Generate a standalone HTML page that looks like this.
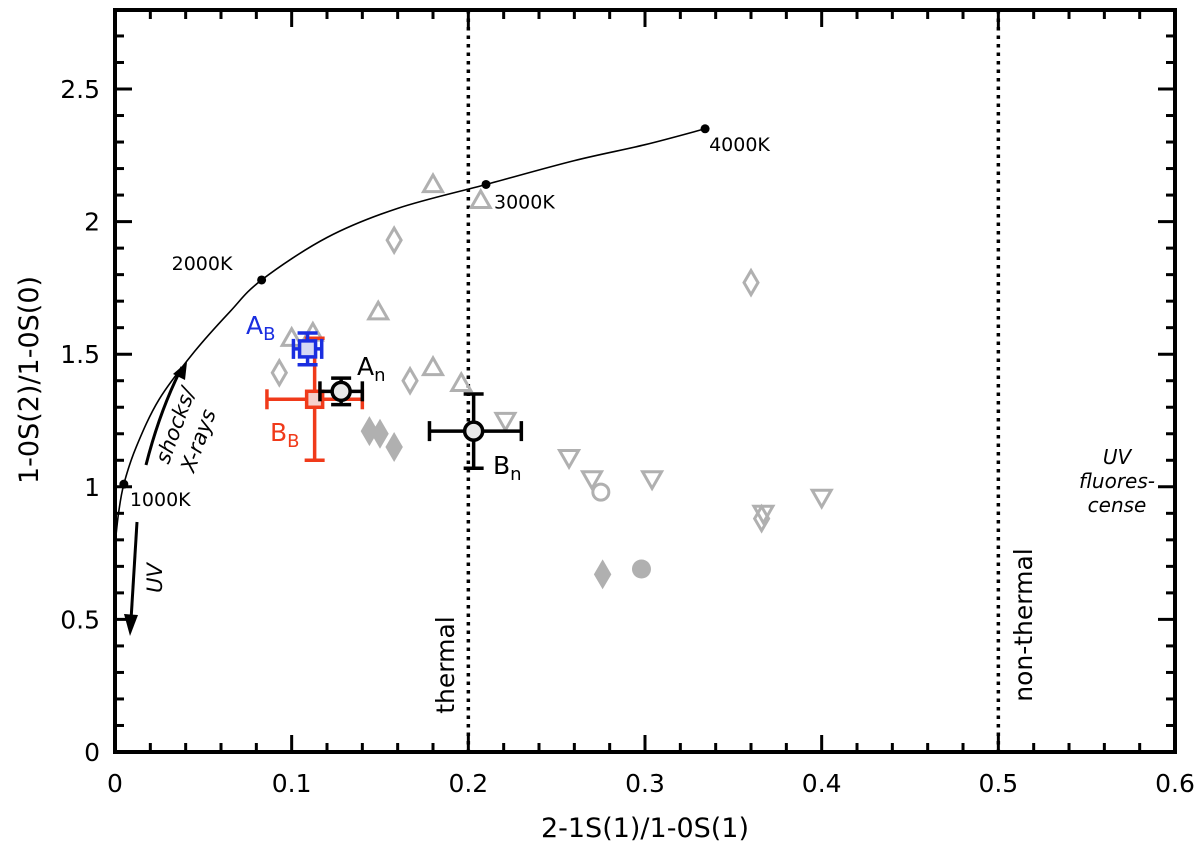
<!DOCTYPE html>
<html><head><meta charset="utf-8"><style>
body{margin:0;background:#fff}
svg text{font-family:"DejaVu Sans","Liberation Sans",sans-serif}
</style></head><body>
<svg id="c" width="1200" height="854" viewBox="0 0 1200 854" xmlns="http://www.w3.org/2000/svg"></svg>
<script>
const xTicks=[0,0.1,0.2,0.3,0.4,0.5,0.6];
const xTickLabels=["0","0.1","0.2","0.3","0.4","0.5","0.6"];
const yTicks=[0,0.5,1,1.5,2,2.5];
const yTickLabels=["0","0.5","1","1.5","2","2.5"];
const curveX=[0,0.002,0.005,0.012,0.025,0.045,0.065,0.083,0.12,0.16,0.21,0.26,0.30,0.334];
const curveY=[0.78,0.9,1.01,1.15,1.33,1.51,1.66,1.78,1.94,2.05,2.14,2.23,2.29,2.35];
const tempLabels=["1000K","2000K","3000K","4000K"];
const tempX=[0.005,0.083,0.21,0.334];
const tempY=[1.01,1.78,2.14,2.35];
const upTriX=[0.18,0.207,0.149,0.18,0.196,0.1,0.112];
const upTriY=[2.14,2.08,1.66,1.45,1.39,1.56,1.58];
const diamX=[0.158,0.36,0.093,0.167,0.366];
const diamY=[1.93,1.77,1.43,1.40,0.88];
const downTriX=[0.221,0.257,0.27,0.304,0.367,0.4];
const downTriY=[1.25,1.11,1.03,1.03,0.9,0.96];
const fDiamX=[0.144,0.15,0.158,0.276];
const fDiamY=[1.21,1.2,1.15,0.67];
const oCircX=[0.275];const oCircY=[0.98];
const fCircX=[0.298];const fCircY=[0.69];
const srcNames=["A_B","B_B","A_n","B_n"];
const srcX=[0.109,0.113,0.128,0.203];
const srcY=[1.52,1.33,1.36,1.21];
const srcXlo=[0.101,0.086,0.116,0.178];
const srcXhi=[0.117,0.14,0.14,0.23];
const srcYlo=[1.46,1.10,1.31,1.07];
const srcYhi=[1.58,1.56,1.41,1.35];

const L=115,R=1175,T=10,B=752;
const X=v=>L+v*1766.7, Y=v=>B-v*265.2;
const svg=document.getElementById('c');
const NS="http://www.w3.org/2000/svg";
function mk(tag,at,parent){const e=document.createElementNS(NS,tag);for(const k in at)e.setAttribute(k,at[k]);(parent||svg).appendChild(e);return e;}
const G="#b0b0b0";
[0.2,0.5].forEach((v,i)=>{const l=mk('line',{x1:X(v),x2:X(v),y1:T,y2:B,stroke:'#000','stroke-width':3.5,'stroke-dasharray':'3.5,5'});

});
// smooth curve (Catmull-Rom)
const P=curveX.map((v,i)=>[X(v),Y(curveY[i])]);
let d="M"+P[0][0]+","+P[0][1];
for(let i=0;i<P.length-1;i++){const p0=P[Math.max(0,i-1)],p1=P[i],p2=P[i+1],p3=P[Math.min(P.length-1,i+2)];
d+=` C${p1[0]+(p2[0]-p0[0])/6},${p1[1]+(p2[1]-p0[1])/6} ${p2[0]-(p3[0]-p1[0])/6},${p2[1]-(p3[1]-p1[1])/6} ${p2[0]},${p2[1]}`;}
const cv=mk('path',{d:d,fill:'none',stroke:'#000','stroke-width':1.6});


tempX.forEach((v,i)=>{const c=mk('circle',{cx:X(v),cy:Y(tempY[i]),r:4.5,fill:'#000'});


const dx=[6,-90,8,4][i],dy=[22,-10,24,22][i];
const t=mk('text',{x:X(v)+dx,y:Y(tempY[i])+dy,'font-size':19});t.textContent=tempLabels[i];

});
function tri(x,y,up,name){const cx=X(x),cy=Y(y),s=9.5;
const p=up?`${cx},${cy-s} ${cx-s},${cy+s*0.75} ${cx+s},${cy+s*0.75}`:`${cx},${cy+s} ${cx-s},${cy-s*0.75} ${cx+s},${cy-s*0.75}`;
const e=mk('polygon',{points:p,fill:'none',stroke:G,'stroke-width':3});

}
upTriX.forEach((v,i)=>tri(v,upTriY[i],true,'up-triangle-point'));
downTriX.forEach((v,i)=>tri(v,downTriY[i],false,'down-triangle-point'));
function dia(x,y,fill,name){const cx=X(x),cy=Y(y);
const e=mk('polygon',{points:`${cx},${cy-12} ${cx+7},${cy} ${cx},${cy+12} ${cx-7},${cy}`,fill:fill?G:'none',stroke:G,'stroke-width':3});

}
diamX.forEach((v,i)=>dia(v,diamY[i],false,'open-diamond-point'));
fDiamX.forEach((v,i)=>dia(v,fDiamY[i],true,'filled-diamond-point'));
oCircX.forEach((v,i)=>{const e=mk('circle',{cx:X(v),cy:Y(oCircY[i]),r:8,fill:'none',stroke:G,'stroke-width':3});

});
fCircX.forEach((v,i)=>{const e=mk('circle',{cx:X(v),cy:Y(fCircY[i]),r:9.5,fill:G});

});
const colors=["#1a2ee0","#f03a1a","#000","#000"];
const drawOrder=[1,0,2,3];
drawOrder.forEach(i=>{const g=mk('g',{stroke:colors[i],'stroke-width':3.5});


const cx=X(srcX[i]),cy=Y(srcY[i]),x1=X(srcXlo[i]),x2=X(srcXhi[i]),y1=Y(srcYlo[i]),y2=Y(srcYhi[i]),c=10;
mk('line',{x1:x1,x2:x2,y1:cy,y2:cy},g);mk('line',{x1:cx,x2:cx,y1:y1,y2:y2},g);
mk('line',{x1:x1,x2:x1,y1:cy-c,y2:cy+c},g);mk('line',{x1:x2,x2:x2,y1:cy-c,y2:cy+c},g);
mk('line',{x1:cx-c,x2:cx+c,y1:y1,y2:y1},g);mk('line',{x1:cx-c,x2:cx+c,y1:y2,y2:y2},g);
if(i<2)mk('rect',{x:cx-8,y:cy-8,width:16,height:16,fill:i?'#f5d0cc':'#d4d8f4'},g);
else mk('circle',{cx:cx,cy:cy,r:9,fill:'#e8e8e8'},g);});
function lab(x,y,main,sub,col){const t=mk('text',{x:x,y:y,'font-size':25,fill:col});t.textContent=main;
const s=mk('tspan',{'font-size':18,dy:6},t);s.textContent=sub;

}
lab(246,334,"A","B","#1a2ee0");lab(270,441,"B","B","#f03a1a");lab(357,375,"A","n","#000");lab(493,474,"B","n","#000");
const ar=mk('path',{d:`M146,465 Q160,410 182,367`,fill:'none',stroke:'#000','stroke-width':3});

mk('polygon',{points:'187,362 173,374 185,380',fill:'#000'});
const ar2=mk('path',{d:`M137,522 L131,620`,fill:'none',stroke:'#000','stroke-width':3});

mk('polygon',{points:'130,636 124,614 138,615',fill:'#000'});
function rot(x,y,a,txt,fs,name,st){const t=mk('text',{x:0,y:0,'font-size':fs,transform:`translate(${x},${y}) rotate(${a})`,'font-style':st||'normal','text-anchor':'middle'});t.textContent=txt;
return t;}
rot(182,428,-70,"shocks/",21,'shocks-label','italic');rot(205,443,-70,"X-rays",21,'xrays-label','italic');
rot(162,578,-90,"UV",21,'uv-label','italic');
rot(454,665,-90,"thermal",25,'thermal-label');rot(1032,625,-90,"non-thermal",25,'non-thermal-label');
[["UV",464],["fluores-",488],["cense",512]].forEach(a=>{const t=mk('text',{x:1117,y:a[1],'font-size':20,'font-style':'italic','text-anchor':'middle'});t.textContent=a[0];
});
const fr=mk('rect',{x:L,y:T,width:R-L,height:B-T,fill:'none',stroke:'#000','stroke-width':4});

for(let v=0;v<=0.6001;v+=0.02){const maj=Math.abs(v*10-Math.round(v*10))<1e-6;const len=maj?17:9;
mk('line',{x1:X(v),x2:X(v),y1:B,y2:B-len,stroke:'#000','stroke-width':3});mk('line',{x1:X(v),x2:X(v),y1:T,y2:T+len,stroke:'#000','stroke-width':3});}
for(let v=0;v<=2.8;v+=0.1){const maj=Math.abs(v*2-Math.round(v*2))<1e-6;const len=maj?17:9;
mk('line',{x1:L,x2:L+len,y1:Y(v),y2:Y(v),stroke:'#000','stroke-width':3});mk('line',{x1:R,x2:R-len,y1:Y(v),y2:Y(v),stroke:'#000','stroke-width':3});}
xTicks.forEach((v,i)=>{const t=mk('text',{x:X(v),y:792,'font-size':25,'text-anchor':'middle'});t.textContent=xTickLabels[i];
});
yTicks.forEach((v,i)=>{const t=mk('text',{x:100,y:Y(v)+9,'font-size':25,'text-anchor':'end'});t.textContent=yTickLabels[i];
});
const xt=mk('text',{x:645,y:837,'font-size':27,'text-anchor':'middle'});xt.textContent="2-1S(1)/1-0S(1)";

rot(38,380,-90,"1-0S(2)/1-0S(0)",27,'y-axis-title');
</script>
</body></html>
